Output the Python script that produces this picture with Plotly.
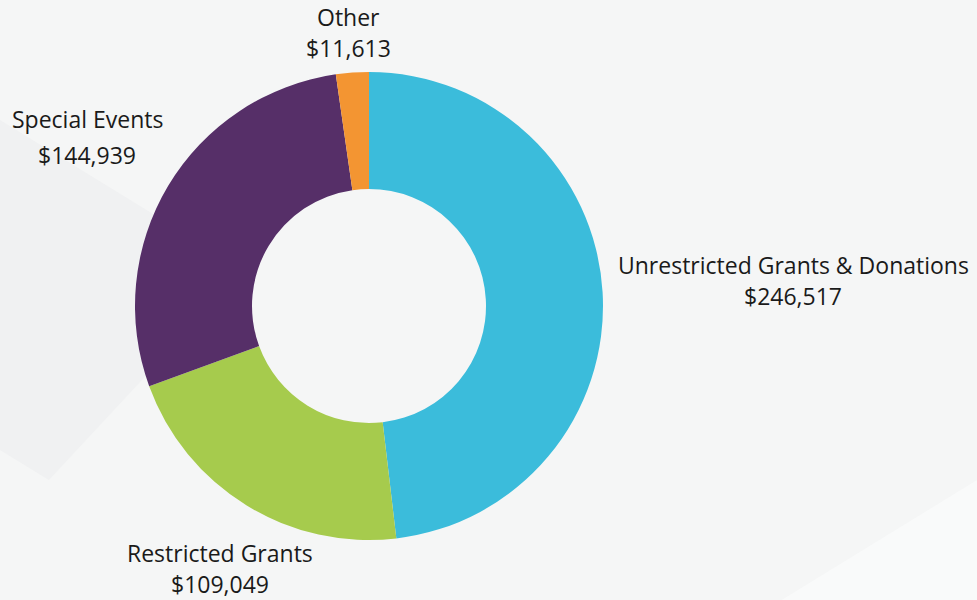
import plotly.graph_objects as go

labels = ["Unrestricted Grants & Donations", "Restricted Grants", "Special Events", "Other"]
values = [246517, 109049, 144939, 11613]
colors = ["#3bbcdb", "#a6cb4d", "#562f68", "#f39532"]

W, H = 977, 600

fig = go.Figure()
fig.add_trace(go.Pie(
    labels=labels, values=values, hole=0.5, sort=False,
    direction="clockwise", rotation=0,
    marker=dict(colors=colors, line=dict(width=0)),
    textinfo="none", hoverinfo="label+value", showlegend=False,
    domain=dict(x=[(369 - 234) / W, (369 + 234) / W],
                y=[(H - 306 - 234) / H, (H - 306 + 234) / H]),
))

# faint background texture like the original slide
fig.add_shape(type="path", xref="paper", yref="paper", layer="below",
              path="M 0 0.8 L 0.25 0.55 L 0.05 0.2 L 0 0.25 Z",
              fillcolor="#f0f1f2", line=dict(width=0))
fig.add_shape(type="path", xref="paper", yref="paper", layer="below",
              path="M 0.8 0 L 1 0.2 L 1 0 Z",
              fillcolor="#f9fafa", line=dict(width=0))

# label positions in pixels: (center x, label line y, value line y)
label_pos = [(793, 265, 296), (220, 553, 584), (87, 119, 155), (348, 17, 48)]
for name, val, (cx, ly, vy) in zip(labels, values, label_pos):
    for txt, py in [(name, ly), ("${:,}".format(val), vy)]:
        fig.add_annotation(x=cx / W, y=1 - py / H, xref="paper", yref="paper",
                           text=txt, showarrow=False, xanchor="center", yanchor="middle",
                           font=dict(family="Open Sans", size=23, color="#1a1a1a"))

fig.update_layout(width=W, height=H, margin=dict(l=0, r=0, t=0, b=0),
                  paper_bgcolor="#f5f6f6", plot_bgcolor="#f5f6f6")
fig.write_html("out.html", config={"displayModeBar": False},
               post_script="document.body.style.margin='0px';")
